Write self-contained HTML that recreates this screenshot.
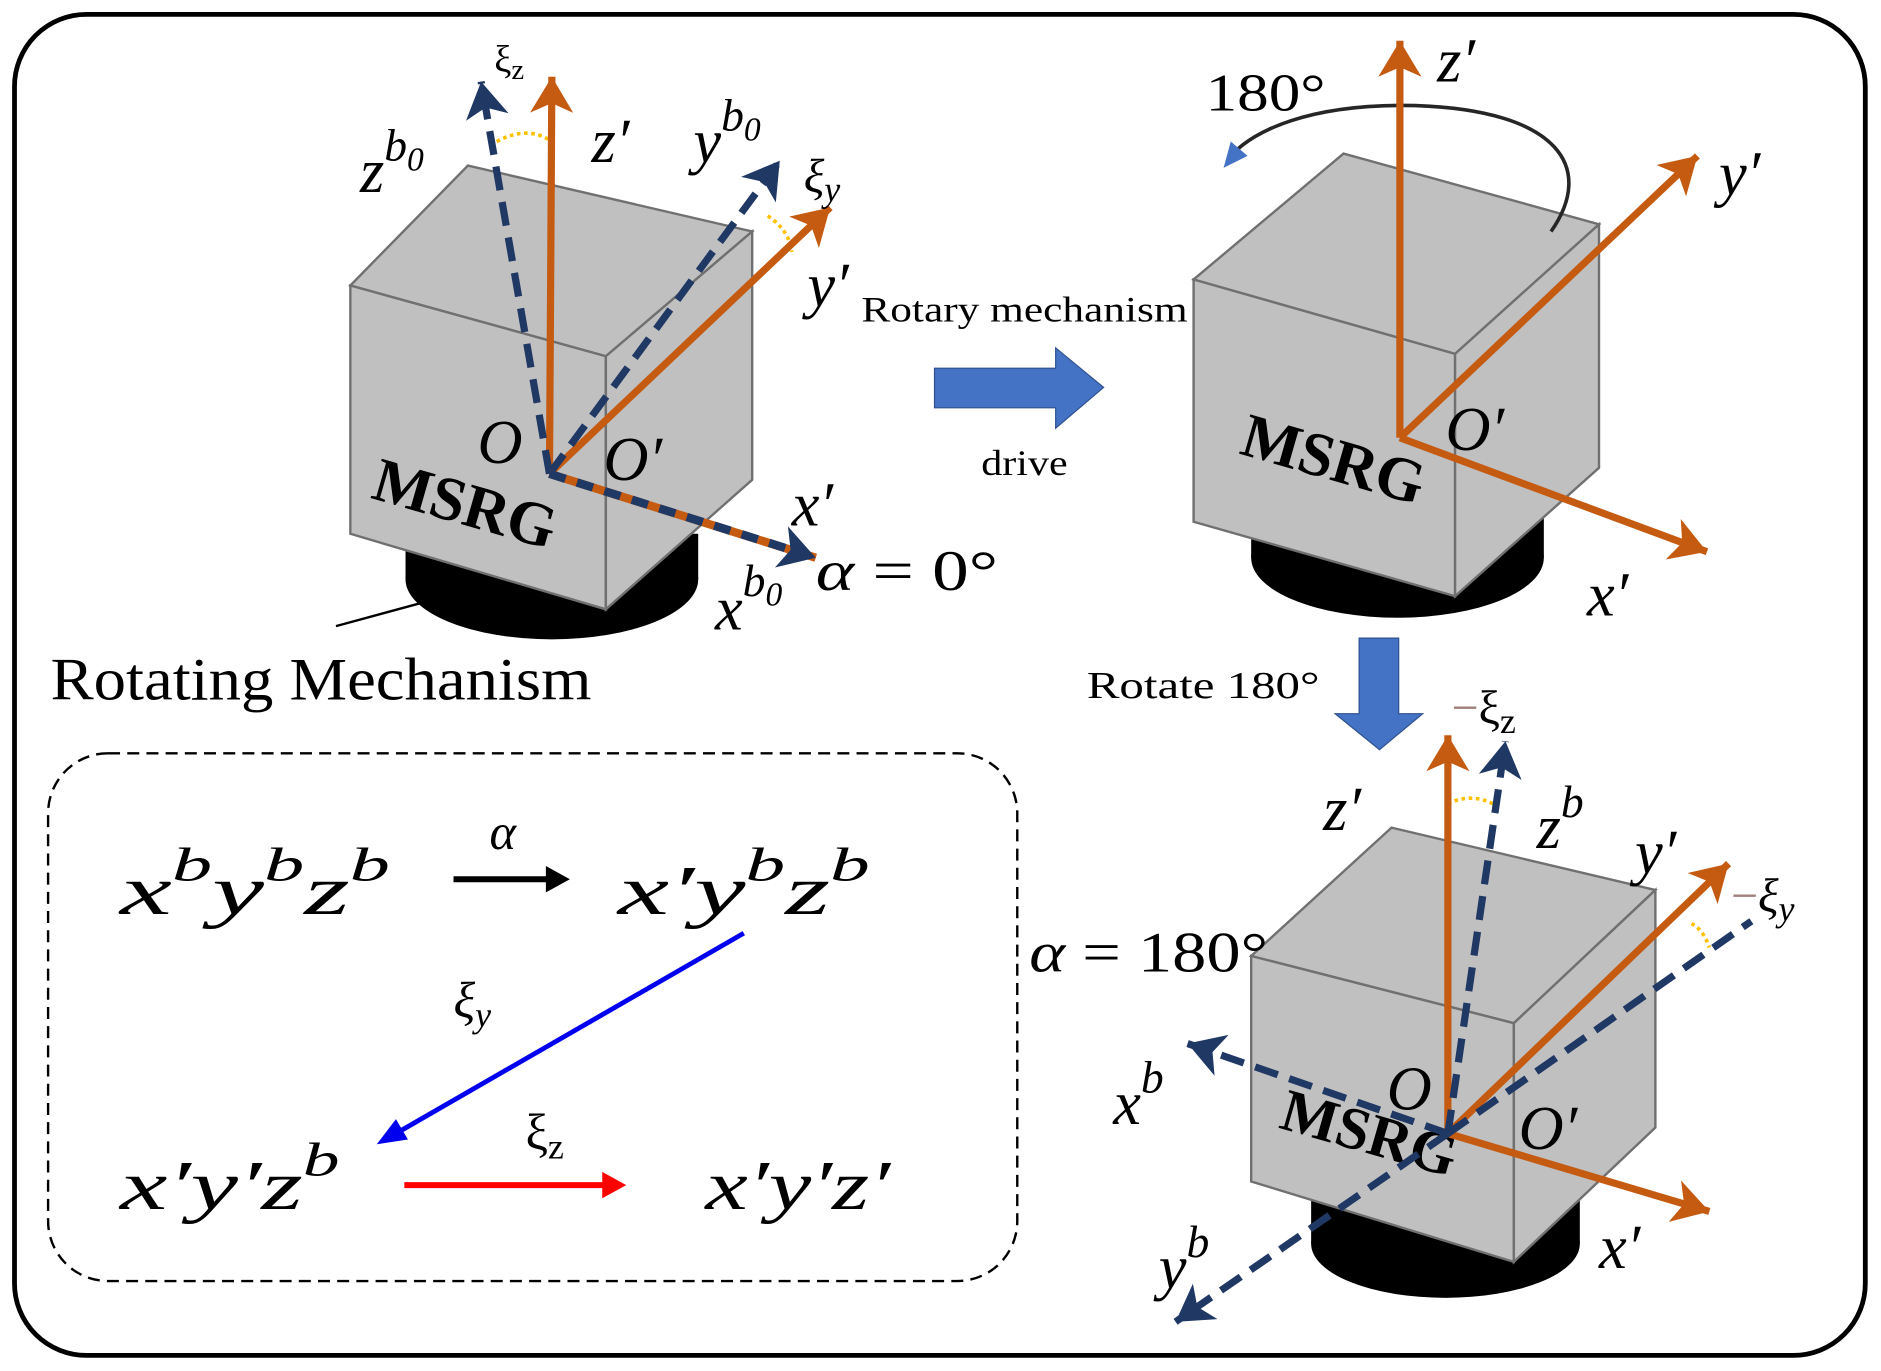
<!DOCTYPE html>
<html><head><meta charset="utf-8"><style>
html,body{margin:0;padding:0;background:#fff}
svg{display:block}
.m{font-family:"Liberation Serif",serif;font-style:italic}
.r{font-family:"Liberation Serif",serif}
</style></head><body>
<svg width="1881" height="1371" viewBox="0 0 1568 1143" xmlns="http://www.w3.org/2000/svg">
<defs>
<marker id="ao" viewBox="-30 -20 40 50" refX="8" refY="5" markerWidth="40" markerHeight="50" orient="auto" markerUnits="userSpaceOnUse"><path d="M-22,-13 L8,5 L-22,23 L-14,5 Z" fill="#c55a11"/></marker>
<marker id="an" viewBox="-30 -20 40 50" refX="8" refY="5" markerWidth="40" markerHeight="50" orient="auto" markerUnits="userSpaceOnUse"><path d="M-22,-13 L8,5 L-22,23 L-14,5 Z" fill="#1f3864"/></marker>
</defs>
<rect x="12" y="12" width="1543" height="1118" rx="60" fill="#fff" stroke="#000" stroke-width="4"/>

<!-- cube 1 -->
<ellipse cx="460" cy="483" rx="122" ry="50" fill="#000"/>
<rect x="338" y="445" width="244" height="38" fill="#000"/>
<polygon points="292,238 390,138 627,193 505,297" fill="#c0c0c0" stroke="#707070" stroke-width="2"/>
<polygon points="292,238 505,297 505,508 292,445" fill="#c0c0c0" stroke="#707070" stroke-width="2"/>
<polygon points="505,297 627,193 627,400 505,508" fill="#c0c0c0" stroke="#707070" stroke-width="2"/>
<line x1="280" y1="522" x2="350" y2="503" stroke="#000" stroke-width="2"/>
<text x="308" y="415" class="r" font-size="52" font-weight="bold" transform="rotate(16 308 415)">MSRG</text>
<path d="M414,118 Q440,104 460,118" fill="none" stroke="#ffc000" stroke-width="3" stroke-dasharray="3,3"/>
<path d="M640,180 Q658,192 660,210" fill="none" stroke="#ffc000" stroke-width="3" stroke-dasharray="3,3"/>
<line x1="458" y1="395" x2="460" y2="64" stroke="#c55a11" stroke-width="6" marker-end="url(#ao)"/>
<line x1="458" y1="395" x2="692" y2="173" stroke="#c55a11" stroke-width="6" marker-end="url(#ao)"/>
<line x1="458" y1="395" x2="401" y2="68" stroke="#1f3864" stroke-width="6" stroke-dasharray="20,10" marker-end="url(#an)"/>
<line x1="458" y1="395" x2="650" y2="134" stroke="#1f3864" stroke-width="6" stroke-dasharray="20,10" marker-end="url(#an)"/>
<line x1="458" y1="395" x2="680" y2="465" stroke="#c55a11" stroke-width="7" marker-end="url(#an)"/>
<line x1="458" y1="395" x2="655" y2="457" stroke="#1f3864" stroke-width="7" stroke-dasharray="14,10"/>
<text x="412" y="60" class="r" font-size="32">ξ<tspan font-size="24" dy="6">z</tspan></text>
<text x="300" y="160" class="m" font-size="52">z<tspan font-size="38" dy="-26">b</tspan><tspan font-size="28" dy="8">0</tspan></text>
<text x="493" y="135" class="m" font-size="52">z′</text>
<text x="578" y="135" class="m" font-size="52">y<tspan font-size="38" dy="-26">b</tspan><tspan font-size="28" dy="8">0</tspan></text>
<text x="670" y="160" class="m" font-size="40">ξ<tspan font-size="30" dy="8">y</tspan></text>
<text x="673" y="255" class="m" font-size="52">y′</text>
<text x="398" y="386" class="m" font-size="52">O</text>
<text x="503" y="400" class="m" font-size="52">O′</text>
<text x="660" y="438" class="m" font-size="52">x′</text>
<text x="596" y="525" class="m" font-size="52">x<tspan font-size="38" dy="-28">b</tspan><tspan font-size="28" dy="8">0</tspan></text>
<text x="680" y="492" class="r" font-size="48" textLength="152" lengthAdjust="spacingAndGlyphs"><tspan class="m">α</tspan> = 0°</text>
<text x="42" y="583" class="r" font-size="50" textLength="451" lengthAdjust="spacingAndGlyphs">Rotating Mechanism</text>

<!-- middle arrow -->
<text x="718" y="268" class="r" font-size="30" textLength="272" lengthAdjust="spacingAndGlyphs">Rotary mechanism</text>
<polygon points="779,307 880,307 880,290 920,323 880,357 880,340 779,340" fill="#4472c4" stroke="#2f528f" stroke-width="1"/>
<text x="818" y="396" class="r" font-size="30" textLength="72" lengthAdjust="spacingAndGlyphs">drive</text>

<!-- cube 2 -->
<ellipse cx="1165" cy="465" rx="122" ry="50" fill="#000"/>
<rect x="1043" y="425" width="244" height="40" fill="#000"/>
<polygon points="995,233 1120,128 1333,187 1213,295" fill="#c0c0c0" stroke="#707070" stroke-width="2"/>
<polygon points="995,233 1213,295 1213,497 995,435" fill="#c0c0c0" stroke="#707070" stroke-width="2"/>
<polygon points="1213,295 1333,187 1333,390 1213,497" fill="#c0c0c0" stroke="#707070" stroke-width="2"/>
<path d="M1293,193 C1330,140 1300,92 1180,88 C1090,86 1045,110 1028,128" fill="none" stroke="#262626" stroke-width="3"/>
<polygon points="1020,140 1026,118 1040,130" fill="#4472c4"/>
<text x="1005" y="92" class="r" font-size="44" textLength="100" lengthAdjust="spacingAndGlyphs">180°</text>
<text x="1032" y="378" class="r" font-size="52" font-weight="bold" transform="rotate(16 1032 378)">MSRG</text>
<line x1="1167" y1="365" x2="1167" y2="34" stroke="#c55a11" stroke-width="6" marker-end="url(#ao)"/>
<line x1="1167" y1="365" x2="1415" y2="130" stroke="#c55a11" stroke-width="6" marker-end="url(#ao)"/>
<line x1="1167" y1="365" x2="1423" y2="460" stroke="#c55a11" stroke-width="6" marker-end="url(#ao)"/>
<text x="1198" y="68" class="m" font-size="52">z′</text>
<text x="1433" y="162" class="m" font-size="52">y′</text>
<text x="1205" y="375" class="m" font-size="52">O′</text>
<text x="1323" y="513" class="m" font-size="52">x′</text>

<!-- down arrow -->
<polygon points="1133,532 1166,532 1166,595 1186,595 1150,625 1113,595 1133,595" fill="#4472c4" stroke="#2f528f" stroke-width="1"/>
<text x="906" y="582" class="r" font-size="32" textLength="194" lengthAdjust="spacingAndGlyphs">Rotate 180°</text>

<!-- cube 3 -->
<ellipse cx="1205" cy="1037" rx="112" ry="45" fill="#000"/>
<rect x="1093" y="990" width="224" height="47" fill="#000"/>
<polygon points="1043,797 1160,690 1380,742 1262,853" fill="#c0c0c0" stroke="#707070" stroke-width="2"/>
<polygon points="1043,797 1262,853 1262,1052 1043,985" fill="#c0c0c0" stroke="#707070" stroke-width="2"/>
<polygon points="1262,853 1380,742 1380,940 1262,1052" fill="#c0c0c0" stroke="#707070" stroke-width="2"/>
<text x="1065" y="940" class="r" font-size="50" font-weight="bold" transform="rotate(16 1065 940)">MSRG</text>
<path d="M1207,670 Q1228,660 1248,672" fill="none" stroke="#ffc000" stroke-width="3" stroke-dasharray="3,3"/>
<path d="M1410,770 Q1420,775 1425,790" fill="none" stroke="#ffc000" stroke-width="3" stroke-dasharray="3,3"/>
<line x1="1207" y1="945" x2="1207" y2="613" stroke="#c55a11" stroke-width="6" marker-end="url(#ao)"/>
<line x1="1207" y1="945" x2="1441" y2="720" stroke="#c55a11" stroke-width="6" marker-end="url(#ao)"/>
<line x1="1207" y1="945" x2="1425" y2="1010" stroke="#c55a11" stroke-width="6" marker-end="url(#ao)"/>
<line x1="1207" y1="945" x2="1255" y2="618" stroke="#1f3864" stroke-width="6" stroke-dasharray="20,10" marker-end="url(#an)"/>
<line x1="1207" y1="945" x2="990" y2="870" stroke="#1f3864" stroke-width="6" stroke-dasharray="20,10" marker-end="url(#an)"/>
<line x1="1207" y1="945" x2="980" y2="1102" stroke="#1f3864" stroke-width="6" stroke-dasharray="20,10" marker-end="url(#an)"/>
<line x1="1207" y1="945" x2="1460" y2="768" stroke="#1f3864" stroke-width="6" stroke-dasharray="20,10"/>
<text x="1210" y="603" class="r" font-size="40"><tspan fill="#a0807a">−</tspan>ξ<tspan font-size="30" dy="8">z</tspan></text>
<text x="1103" y="692" class="m" font-size="52">z′</text>
<text x="1281" y="707" class="m" font-size="52">z<tspan font-size="38" dy="-26">b</tspan></text>
<text x="1363" y="728" class="m" font-size="52">y′</text>
<text x="1443" y="760" class="m" font-size="40"><tspan fill="#a0807a" font-style="normal">−</tspan>ξ<tspan font-size="30" dy="8">y</tspan></text>
<text x="858" y="810" class="r" font-size="48" textLength="199" lengthAdjust="spacingAndGlyphs"><tspan class="m">α</tspan> = 180°</text>
<text x="928" y="937" class="m" font-size="52">x<tspan font-size="38" dy="-26">b</tspan></text>
<text x="1156" y="925" class="m" font-size="52">O</text>
<text x="1266" y="958" class="m" font-size="52">O′</text>
<text x="966" y="1074" class="m" font-size="52">y<tspan font-size="38" dy="-26">b</tspan></text>
<text x="1333" y="1057" class="m" font-size="52">x′</text>

<!-- dashed box -->
<rect x="40" y="628" width="808" height="440" rx="50" fill="none" stroke="#000" stroke-width="2" stroke-dasharray="10,6"/>
<text x="100" y="762" class="m" font-size="58" textLength="225" lengthAdjust="spacingAndGlyphs">x<tspan font-size="40" dy="-28">b</tspan><tspan dy="28">y</tspan><tspan font-size="40" dy="-28">b</tspan><tspan dy="28">z</tspan><tspan font-size="40" dy="-28">b</tspan></text>
<line x1="378" y1="733" x2="462" y2="733" stroke="#000" stroke-width="5"/>
<polygon points="475,733 455,722 455,744" fill="#000"/>
<text x="408" y="708" class="m" font-size="42">α</text>
<text x="515" y="762" class="m" font-size="58" textLength="210" lengthAdjust="spacingAndGlyphs">x′y<tspan font-size="40" dy="-28">b</tspan><tspan dy="28">z</tspan><tspan font-size="40" dy="-28">b</tspan></text>
<line x1="620" y1="778" x2="330" y2="945" stroke="#0000ee" stroke-width="4"/>
<polygon points="314,954 330,933 340,950" fill="#0000ee"/>
<text x="378" y="848" class="m" font-size="42">ξ<tspan font-size="30" dy="8">y</tspan></text>
<text x="100" y="1008" class="m" font-size="58" textLength="183" lengthAdjust="spacingAndGlyphs">x′y′z<tspan font-size="40" dy="-28">b</tspan></text>
<line x1="337" y1="988" x2="505" y2="988" stroke="#ff0000" stroke-width="5"/>
<polygon points="522,988 502,977 502,999" fill="#ff0000"/>
<text x="438" y="958" class="r" font-size="42">ξ<tspan font-size="30" dy="8">z</tspan></text>
<text x="588" y="1008" class="m" font-size="58" textLength="154" lengthAdjust="spacingAndGlyphs">x′y′z′</text>
</svg>
</body></html>
